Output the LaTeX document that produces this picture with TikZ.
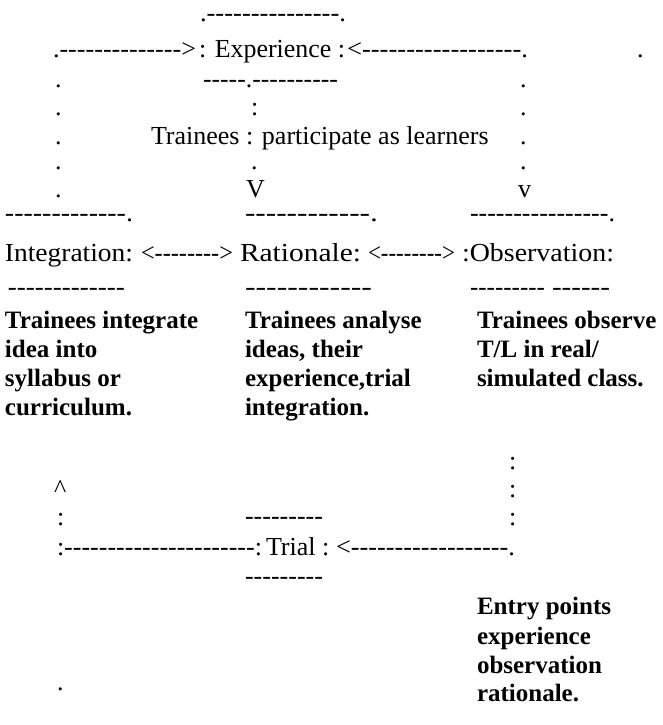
\documentclass[tikz,border=0pt]{standalone}
\usepackage{fontspec}
\setmainfont{Liberation Serif}
\usepackage{graphicx}
\ExplSyntaxOn
\cs_new:Npn \hyrun #1 {\prg_replicate:nn{#1}{-\kern0pt}}
\ExplSyntaxOff
\newcommand\fitw[2]{\resizebox{#1pt}{\height}{#2}}
\begin{document}
\begin{tikzpicture}[x=1pt,y=-1pt,
  t/.style={anchor=base west,inner sep=0pt,outer sep=0pt,font=\fontsize{26}{29}\selectfont},
  b/.style={anchor=base west,inner sep=0pt,outer sep=0pt,font=\fontsize{25}{28}\selectfont\bfseries}]
\useasboundingbox[fill=white] (0,0) rectangle (662,725);
% top block: Experience
\node[t] (topline) at (200,22) {\fitw{146}{.\hyrun{15}.}};
\node[t] (expL) at (53,57) {\fitw{143}{.\hyrun{14}>}};
\node[t] (exp) at (199,57) {\fitw{146}{: Experience :}};
\node[t] (expR) at (347,57) {\fitw{181}{<\hyrun{18}.}};
\node[t] (stray) at (637,57) {.};
\node[t] (expbot) at (203,87) {\fitw{135}{\hyrun{5}.\hyrun{10}}};
% left column dots
\foreach \y/\n in {88/1,115/2,144/3,169/4,197/5} {\node[t] (ld\n) at (55,\y) {.};}
% right column dots
\foreach \y/\n in {88/1,115/2,144/3,169/4} {\node[t] (rd\n) at (520,\y) {.};}
\node[t] (mcolon) at (251,115) {:};
\node[t] (trainees) at (151,144) {Trainees : participate as learners};
\node[t] (mdot) at (251,169) {.};
\node[t] (mV) at (246,197) {V};
\node[t] (rv) at (518,197) {v};
% three boxes
\node[t] (intTop) at (5,221) {\fitw{128}{\hyrun{13}.}};
\node[t] (ratTop) at (245,221) {\fitw{133}{\hyrun{12}.}};
\node[t] (obsTop) at (470,221) {\fitw{145}{\hyrun{16}.}};
\node[t] (integration) at (5,261) {\fitw{128}{Integration:}};
\node[t] (arrIR) at (141,261) {\fitw{92}{<\hyrun{8}>}};
\node[t] (rationale) at (240,261) {\fitw{121}{Rationale:}};
\node[t] (arrRO) at (368,261) {\fitw{87}{<\hyrun{8}>}};
\node[t] (observation) at (462,261) {\fitw{152}{:Observation:}};
\node[t] (intBot) at (8,295) {\fitw{117}{\hyrun{13}}};
\node[t] (ratBot) at (245,295) {\fitw{127}{\hyrun{12}}};
\node[t] (obsBotA) at (470,295) {\fitw{75}{\hyrun{9}}};
\node[t] (obsBotB) at (552,295) {\fitw{58}{\hyrun{6}}};
% descriptions
\node[b] (i1) at (5,328) {Trainees integrate};
\node[b] (i2) at (5,357) {idea into};
\node[b] (i3) at (5,386) {syllabus or};
\node[b] (i4) at (5,415) {curriculum.};
\node[b] (r1) at (245,328) {Trainees analyse};
\node[b] (r2) at (245,357) {ideas, their};
\node[b] (r3) at (245,386) {experience,trial};
\node[b] (r4) at (245,415) {integration.};
\node[b] (o1) at (477,328) {Trainees observe};
\node[b] (o2) at (477,357) {T/L in real/};
\node[b] (o3) at (477,386) {simulated class.};
% lower loop
\foreach \y/\n in {469/1,497/2,525/3} {\node[t] (rc\n) at (509,\y) {:};}
\node[t] (caret) at (54,497) {\textasciicircum};
\node[t] (lcolon) at (57,525) {:};
\node[t] (trialTop) at (245,524) {\fitw{78}{\hyrun{9}}};
\node[t] (trialL) at (57,555) {\fitw{205}{:\hyrun{22}:}};
\node[t] (trial) at (266,555) {Trial :};
\node[t] (trialR) at (336,555) {\fitw{179}{<\hyrun{18}.}};
\node[t] (trialBot) at (245,584) {\fitw{78}{\hyrun{9}}};
% entry points
\node[b] (e1) at (477,614) {Entry points};
\node[b] (e2) at (477,644) {experience};
\node[b] (e3) at (477,673) {observation};
\node[b] (e4) at (477,701) {rationale.};
\node[t] (lowdot) at (57,690) {.};
\end{tikzpicture}
\end{document}
